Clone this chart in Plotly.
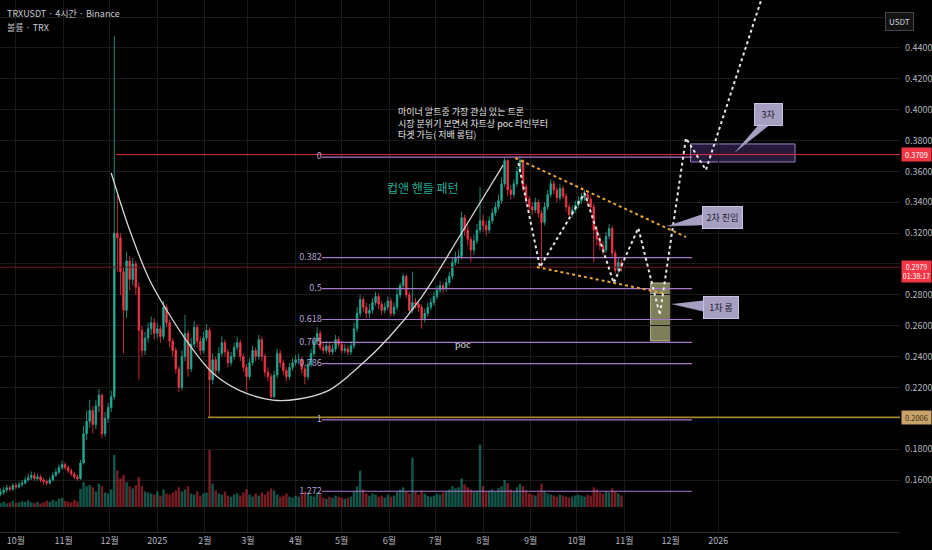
import pandas as pd
import plotly.graph_objects as go

# 2-day candles
dates = pd.date_range('2024-09-21', periods=203, freq='2D')
closes = [
    0.1520, 0.1535, 0.1550, 0.1540, 0.1565, 0.1555, 0.1570, 0.1580, 0.1600, 0.1615,
    0.1630, 0.1610, 0.1620, 0.1600, 0.1590, 0.1580, 0.1600, 0.1630, 0.1650, 0.1680,
    0.1700, 0.1680, 0.1660, 0.1640, 0.1620, 0.1610, 0.1710, 0.1900, 0.1980, 0.2050,
    0.1960, 0.2080, 0.2150, 0.1900, 0.2000, 0.2070, 0.2140, 0.3200, 0.3170, 0.2950,
    0.2700, 0.3020, 0.2900, 0.3000, 0.2850, 0.2570, 0.2440, 0.2520, 0.2580, 0.2620,
    0.2550, 0.2580, 0.2530, 0.2720, 0.2620, 0.2500, 0.2440, 0.2320, 0.2200, 0.2400,
    0.2550, 0.2320, 0.2480, 0.2590, 0.2500, 0.2440, 0.2520, 0.2570, 0.2250, 0.2380,
    0.2310, 0.2420, 0.2490, 0.2430, 0.2360, 0.2400, 0.2460, 0.2490, 0.2400, 0.2330,
    0.2270, 0.2360, 0.2440, 0.2400, 0.2510, 0.2400, 0.2300, 0.2270, 0.2140, 0.2280,
    0.2420, 0.2360, 0.2310, 0.2270, 0.2330, 0.2360, 0.2380, 0.2380, 0.2320, 0.2270,
    0.2350, 0.2420, 0.2500, 0.2550, 0.2460, 0.2440, 0.2470, 0.2430, 0.2450, 0.2510,
    0.2480, 0.2440, 0.2450, 0.2430, 0.2470, 0.2580, 0.2680, 0.2770, 0.2720, 0.2680,
    0.2700, 0.2750, 0.2790, 0.2740, 0.2700, 0.2720, 0.2760, 0.2680, 0.2720, 0.2800,
    0.2860, 0.2920, 0.2800, 0.2700, 0.2750, 0.2740, 0.2720, 0.2640, 0.2680, 0.2720,
    0.2750, 0.2790, 0.2830, 0.2860, 0.2840, 0.2880, 0.2920, 0.3010, 0.3040, 0.3050,
    0.3300, 0.3220, 0.3160, 0.3090, 0.3150, 0.3220, 0.3280, 0.3250, 0.3220, 0.3280,
    0.3330, 0.3370, 0.3410, 0.3520, 0.3670, 0.3480, 0.3450, 0.3520, 0.3600, 0.3670,
    0.3500, 0.3420, 0.3370, 0.3350, 0.3400, 0.3330, 0.3270, 0.3370, 0.3450, 0.3520,
    0.3480, 0.3430, 0.3490, 0.3440, 0.3370, 0.3320, 0.3350, 0.3380, 0.3410, 0.3430,
    0.3450, 0.3420, 0.3370, 0.3220, 0.3160, 0.3120, 0.3090, 0.3180, 0.3230, 0.3070,
    0.2960, 0.3010, 0.2979,
]
highs = [
    0.1545, 0.1555, 0.1570, 0.1565, 0.1580, 0.1580, 0.1590, 0.1600, 0.1620, 0.1640,
    0.1655, 0.1650, 0.1640, 0.1635, 0.1615, 0.1605, 0.1620, 0.1650, 0.1675, 0.1700,
    0.1725, 0.1715, 0.1695, 0.1675, 0.1650, 0.1635, 0.1730, 0.1950, 0.2050, 0.2120,
    0.2080, 0.2120, 0.2190, 0.2160, 0.2040, 0.2100, 0.2180, 0.4480, 0.3450, 0.3200,
    0.2980, 0.3080, 0.3050, 0.3040, 0.3020, 0.2880, 0.2600, 0.2560, 0.2620, 0.2660,
    0.2650, 0.2620, 0.2600, 0.2760, 0.2740, 0.2640, 0.2520, 0.2460, 0.2340, 0.2440,
    0.2670, 0.2570, 0.2520, 0.2630, 0.2610, 0.2530, 0.2560, 0.2610, 0.2590, 0.2420,
    0.2400, 0.2460, 0.2530, 0.2510, 0.2450, 0.2430, 0.2490, 0.2530, 0.2510, 0.2420,
    0.2350, 0.2390, 0.2470, 0.2460, 0.2540, 0.2530, 0.2420, 0.2330, 0.2290, 0.2310,
    0.2450, 0.2440, 0.2380, 0.2330, 0.2360, 0.2390, 0.2410, 0.2420, 0.2400, 0.2340,
    0.2380, 0.2450, 0.2530, 0.2590, 0.2570, 0.2490, 0.2500, 0.2490, 0.2480, 0.2540,
    0.2530, 0.2500, 0.2480, 0.2470, 0.2500, 0.2620, 0.2720, 0.2800, 0.2790, 0.2750,
    0.2740, 0.2780, 0.2820, 0.2810, 0.2760, 0.2750, 0.2790, 0.2780, 0.2750, 0.2840,
    0.2880, 0.2940, 0.2930, 0.2820, 0.2950, 0.2780, 0.2760, 0.2740, 0.2710, 0.2750,
    0.2780, 0.2820, 0.2860, 0.2890, 0.2880, 0.2910, 0.2950, 0.3040, 0.3080, 0.3090,
    0.3340, 0.3320, 0.3250, 0.3180, 0.3190, 0.3260, 0.3500, 0.3320, 0.3280, 0.3310,
    0.3360, 0.3400, 0.3450, 0.3560, 0.3690, 0.3680, 0.3510, 0.3550, 0.3630, 0.3700,
    0.3680, 0.3520, 0.3440, 0.3400, 0.3430, 0.3420, 0.3350, 0.3400, 0.3480, 0.3550,
    0.3540, 0.3500, 0.3520, 0.3510, 0.3460, 0.3390, 0.3380, 0.3410, 0.3440, 0.3460,
    0.3480, 0.3470, 0.3440, 0.3390, 0.3250, 0.3190, 0.3150, 0.3210, 0.3260, 0.3250,
    0.3090, 0.3040, 0.3030,
]
lows = [
    0.1495, 0.1505, 0.1520, 0.1525, 0.1530, 0.1540, 0.1545, 0.1555, 0.1570, 0.1590,
    0.1600, 0.1595, 0.1595, 0.1585, 0.1570, 0.1565, 0.1570, 0.1590, 0.1620, 0.1640,
    0.1665, 0.1665, 0.1645, 0.1625, 0.1605, 0.1595, 0.1600, 0.1700, 0.1860, 0.1940,
    0.1900, 0.1930, 0.2040, 0.1870, 0.1880, 0.1970, 0.2040, 0.2120, 0.2950, 0.2800,
    0.2420, 0.2650, 0.2830, 0.2860, 0.2800, 0.2250, 0.2400, 0.2410, 0.2490, 0.2540,
    0.2510, 0.2520, 0.2490, 0.2510, 0.2590, 0.2460, 0.2400, 0.2290, 0.2170, 0.2180,
    0.2370, 0.2270, 0.2300, 0.2460, 0.2460, 0.2410, 0.2420, 0.2500, 0.2006, 0.2220,
    0.2280, 0.2290, 0.2400, 0.2400, 0.2330, 0.2340, 0.2380, 0.2440, 0.2370, 0.2300,
    0.2180, 0.2250, 0.2340, 0.2370, 0.2380, 0.2370, 0.2270, 0.2240, 0.2130, 0.2130,
    0.2260, 0.2330, 0.2280, 0.2240, 0.2250, 0.2310, 0.2340, 0.2350, 0.2290, 0.2220,
    0.2250, 0.2330, 0.2400, 0.2480, 0.2440, 0.2420, 0.2420, 0.2410, 0.2410, 0.2430,
    0.2460, 0.2420, 0.2420, 0.2410, 0.2410, 0.2450, 0.2560, 0.2660, 0.2690, 0.2650,
    0.2650, 0.2680, 0.2730, 0.2710, 0.2670, 0.2680, 0.2700, 0.2660, 0.2660, 0.2700,
    0.2780, 0.2840, 0.2780, 0.2680, 0.2680, 0.2710, 0.2690, 0.2580, 0.2620, 0.2660,
    0.2700, 0.2730, 0.2770, 0.2810, 0.2810, 0.2820, 0.2860, 0.2900, 0.2990, 0.3000,
    0.3030, 0.3180, 0.3120, 0.3010, 0.3060, 0.3130, 0.3200, 0.3210, 0.3180, 0.3200,
    0.3260, 0.3310, 0.3350, 0.3390, 0.3500, 0.3440, 0.3420, 0.3430, 0.3500, 0.3580,
    0.3470, 0.3390, 0.3340, 0.3320, 0.3330, 0.3300, 0.2980, 0.3250, 0.3350, 0.3430,
    0.3450, 0.3400, 0.3410, 0.3420, 0.3340, 0.3300, 0.3300, 0.3330, 0.3360, 0.3390,
    0.3410, 0.3390, 0.3340, 0.3010, 0.3120, 0.3090, 0.3060, 0.3070, 0.3160, 0.3040,
    0.2940, 0.2940, 0.2950,
]
volumes = [
    8, 10, 7, 9, 12, 8, 9, 11, 10, 13,
    9, 8, 10, 7, 9, 12, 10, 14, 11, 16,
    18, 12, 10, 9, 14, 11, 35, 48, 40, 42,
    38, 30, 45, 40, 28, 26, 34, 100, 70, 55,
    62, 48, 40, 36, 42, 58, 40, 30, 28, 26,
    24, 30, 22, 34, 26, 24, 28, 32, 38, 30,
    34, 40, 26, 24, 30, 22, 26, 28, 110, 45,
    32, 26, 24, 30, 22, 20, 24, 26, 22, 28,
    34, 24, 20, 26, 22, 28, 24, 30, 36, 32,
    24, 20, 22, 26, 20, 18, 22, 20, 24, 30,
    26, 22, 20, 28, 24, 18, 16, 20, 18, 22,
    20, 18, 16, 18, 20, 30, 40, 70, 34, 26,
    22, 26, 24, 20, 22, 18, 24, 20, 22, 30,
    34, 38, 30, 26, 95, 30, 24, 32, 26, 22,
    20, 22, 26, 24, 28, 30, 34, 40, 36, 38,
    55, 44, 38, 34, 30, 32, 120, 40, 30, 32,
    34, 30, 36, 40, 52, 46, 34, 30, 38, 44,
    40, 32, 26, 24, 22, 28, 45, 30, 26, 24,
    22, 20, 24, 22, 20, 18, 20, 22, 24, 22,
    20, 24, 22, 38, 34, 28, 26, 30, 28, 36,
    30, 26, 22,
]
opens = [0.1510] + closes[:-1]

# axis ticks
month_ticks = ['2024-10-01', '2024-11-01', '2024-12-01', '2025-01-01', '2025-02-01',
               '2025-03-01', '2025-04-01', '2025-05-01', '2025-06-01', '2025-07-01',
               '2025-08-01', '2025-09-01', '2025-10-01', '2025-11-01', '2025-12-01',
               '2026-01-01']
month_labels = ['10월', '11월', '12월', '2025', '2월', '3월', '4월', '5월', '6월', '7월',
                '8월', '9월', '10월', '11월', '12월', '2026']
price_ticks = [0.16, 0.18, 0.20, 0.22, 0.24, 0.26, 0.28, 0.30, 0.32, 0.34, 0.36,
               0.38, 0.40, 0.42, 0.44, 0.46]
price_labels = ['0.1600', '0.1800', '', '0.2200', '0.2400', '0.2600', '0.2800', '',
                '0.3200', '0.3400', '0.3600', '0.3800', '0.4000', '0.4200', '0.4400', '']
x_start, x_end = '2024-09-20 15:00', '2026-04-29 07:00'

# horizontal levels
ath_price, ath_date = 0.3709, '2024-12-05'
last_price = 0.2979
low_price, low_date = 0.2006, '2025-02-03'

# fib retracement
fib_start, fib_end = '2025-04-18', '2025-12-15'
fib_top, fib_bottom = 0.3692, 0.1990
fib_ratios = [0, 0.382, 0.5, 0.618, 0.705, 0.786, 1, 1.272]
fib_labels = ['0', '0.382', '0.5', '0.618', '0.705', '0.786', '1', '1.272']
fib_prices = [fib_top - r * (fib_top - fib_bottom) for r in fib_ratios]

# cup arc
cup_dates = ['2024-12-02', '2024-12-14', '2024-12-27', '2025-01-07', '2025-01-22',
             '2025-02-06', '2025-02-23', '2025-03-17', '2025-04-03', '2025-04-23',
             '2025-05-12', '2025-06-01', '2025-06-22', '2025-07-18', '2025-08-14']
cup_prices = [0.3590, 0.3220, 0.2896, 0.2702, 0.2475, 0.2293, 0.2183, 0.2118, 0.2125,
              0.2183, 0.2332, 0.2527, 0.2786, 0.3201, 0.3641]

# projected path (white dots)
path_dates = ['2025-08-24', '2025-09-07', '2025-10-06', '2025-10-25', '2025-11-10',
              '2025-11-24', '2025-12-11', '2025-12-24', '2026-01-30']
path_prices = [0.3654, 0.2980, 0.3460, 0.2877, 0.3233, 0.2669, 0.3816, 0.3609, 0.4743]

# handle channel (orange dots)
upper_dates, upper_prices = ['2025-08-22', '2025-12-11'], [0.3687, 0.3175]
lower_dates, lower_prices = ['2025-09-05', '2025-11-26'], [0.2980, 0.2812]

# zones
target_zone = dict(x0='2025-12-14', x1='2026-02-20', y0=0.3661, y1=0.3778)
entry_zone = dict(x0='2025-11-18', x1='2025-12-01', y0=0.2501, y1=0.2877)

# callouts: label, box centre, tail triangle
callouts = [
    ('3차', '2026-02-03', 0.3972, 23,
     ['2026-01-30', '2026-02-04', '2026-01-12'], [0.3933, 0.3907, 0.3726]),
    ('2차 진입', '2026-01-04', 0.3301, 35,
     ['2025-12-27', '2025-12-27', '2025-11-29'], [0.3340, 0.3255, 0.3246]),
    ('1차 롱', '2026-01-03', 0.2718, 30,
     ['2025-12-28', '2025-12-28', '2025-12-02'], [0.2770, 0.2680, 0.2741]),
]

UP, DOWN = '#22ab94', '#f23645'
FIB = '#a878c8'
BOX = '#a79fc2'

fig = go.Figure()

# volume on the hidden primary axis so price draws on top
vol_colors = ['rgba(34,171,148,0.5)' if c >= o else 'rgba(242,54,69,0.5)'
              for o, c in zip(opens, closes)]
fig.add_trace(go.Bar(x=dates, y=volumes, marker=dict(color=vol_colors, line_width=0),
                     yaxis='y', showlegend=False))

# level lines
fig.add_trace(go.Scatter(x=[x_start, x_end], y=[last_price, last_price], mode='lines',
                         line=dict(color='#6e1a22', width=1), yaxis='y2', showlegend=False))
fig.add_trace(go.Scatter(x=[ath_date, x_end], y=[ath_price, ath_price], mode='lines',
                         line=dict(color='#e0303f', width=1), yaxis='y2', showlegend=False))
fig.add_trace(go.Scatter(x=[low_date, x_end], y=[low_price, low_price], mode='lines',
                         line=dict(color='#a8892e', width=1.5), yaxis='y2', showlegend=False))

# fib lines + labels
fx, fy = [], []
for p in fib_prices:
    fx += [fib_start, fib_end, None]
    fy += [p, p, None]
fig.add_trace(go.Scatter(x=fx, y=fy, mode='lines', line=dict(color=FIB, width=1.2),
                         yaxis='y2', showlegend=False))
fig.add_trace(go.Scatter(x=[fib_start] * len(fib_prices), y=fib_prices, mode='text',
                         text=fib_labels, textposition='middle left',
                         textfont=dict(size=9, color='#b9a2d6'), yaxis='y2', showlegend=False))

# candles
fig.add_trace(go.Candlestick(x=dates, open=opens, high=highs, low=lows, close=closes,
                             increasing=dict(line=dict(color=UP, width=0.8), fillcolor=UP),
                             decreasing=dict(line=dict(color=DOWN, width=0.8), fillcolor=DOWN),
                             whiskerwidth=0, yaxis='y2', showlegend=False))

# drawings
fig.add_trace(go.Scatter(x=cup_dates, y=cup_prices, mode='lines',
                         line=dict(color='#d6d6d6', width=1.3, shape='spline'),
                         yaxis='y2', showlegend=False))
for xs, ys in [(upper_dates, upper_prices), (lower_dates, lower_prices)]:
    fig.add_trace(go.Scatter(x=xs, y=ys, mode='lines',
                             line=dict(color='#e8a33d', width=2, dash='dot'),
                             yaxis='y2', showlegend=False))
fig.add_trace(go.Scatter(x=path_dates, y=path_prices, mode='lines',
                         line=dict(color='#e6e6e6', width=2, dash='dot'),
                         yaxis='y2', showlegend=False))

fig.add_shape(type='rect', xref='x', yref='y2', layer='below',
              fillcolor='rgba(126,87,194,0.30)', line=dict(color='#9a7fc8', width=1),
              **target_zone)
fig.add_shape(type='rect', xref='x', yref='y2', layer='below',
              fillcolor='rgba(170,168,120,0.75)', line=dict(color='#b8b68a', width=1),
              **entry_zone)

for label, bx, by, bw, tx, ty in callouts:
    fig.add_trace(go.Scatter(x=tx, y=ty, mode='lines', fill='toself', fillcolor=BOX,
                             line=dict(color=BOX, width=0.5), yaxis='y2', showlegend=False))
    fig.add_annotation(x=bx, y=by, xref='x', yref='y2', text=label, showarrow=False,
                       bgcolor=BOX, bordercolor='#c9c1e3', borderwidth=1, borderpad=2,
                       width=bw, height=17, font=dict(size=9, color='#1b1b2a'))

# texts
fig.add_annotation(x='2025-06-05', y=0.4043, xref='x', yref='y2', xanchor='left',
                   yanchor='top', align='left', showarrow=False,
                   text='마이너 알트중 가장 관심 있는 트론<br>시장 분위기 보면서 차트상 poc 라인부터'
                        '<br>타겟 가능( 저배 롱텀)',
                   font=dict(size=9, color='#e6e6e6'))
fig.add_annotation(x='2025-06-23', y=0.3499, xref='x', yref='y2', showarrow=False,
                   text='컵앤 핸들 패턴', font=dict(size=12, color=UP))
fig.add_annotation(x='2025-07-19', y=0.2481, xref='x', yref='y2', showarrow=False,
                   text='poc', font=dict(size=11, color='#d8d8d8', family='Liberation Serif'))

fig.add_annotation(x=0.005, y=0.975, xref='paper', yref='paper', xanchor='left',
                   yanchor='middle', showarrow=False, text='TRXUSDT · 4시간 · Binance',
                   font=dict(size=9, color='#c8cad0'))
fig.add_annotation(x=0.005, y=0.948, xref='paper', yref='paper', xanchor='left',
                   yanchor='middle', showarrow=False, text='볼륨 · TRX',
                   font=dict(size=9, color='#c8cad0'))

# price scale badges
fig.add_annotation(x=1.0155, y=0.977, xref='paper', yref='paper', showarrow=False,
                   text='USDT', bgcolor='#131313', bordercolor='#434651', borderwidth=1,
                   borderpad=3, font=dict(size=8, color='#d1d4dc'))
fig.add_annotation(x=1.001, y=ath_price, xref='paper', yref='y2', xanchor='left',
                   showarrow=False, text='0.3709', bgcolor='#f23645', borderpad=1,
                   width=27, font=dict(size=7.5, color='#ffffff'))
fig.add_annotation(x=1.001, y=last_price, xref='paper', yref='y2', xanchor='left',
                   yshift=-4, showarrow=False, text='0.2979<br>01:38:17',
                   bgcolor='#f23645', borderpad=1, width=27,
                   font=dict(size=7, color='#ffffff'))
fig.add_annotation(x=1.001, y=low_price, xref='paper', yref='y2', xanchor='left',
                   showarrow=False, text='0.2006', bgcolor='#c9a46a', borderpad=1,
                   width=27, font=dict(size=7.5, color='#3a2a10'))

fig.update_layout(
    width=932, height=550,
    margin=dict(l=0, r=30, t=0, b=18),
    paper_bgcolor='#000000', plot_bgcolor='#000000',
    font=dict(family='Noto Sans CJK KR, Noto Sans, sans-serif', color='#b2b5be'),
    bargap=0.2,
    xaxis=dict(type='date', range=[x_start, x_end], rangeslider=dict(visible=False),
               tickvals=month_ticks, ticktext=month_labels, tickfont=dict(size=9),
               showgrid=True, gridcolor='#1a1a1a', zeroline=False,
               showline=True, linecolor='#2a2e39', ticks=''),
    yaxis=dict(range=[-48, 975], visible=False, showgrid=False, fixedrange=True),
    yaxis2=dict(overlaying='y', side='right', range=[0.1263, 0.4711],
                tickvals=price_ticks, ticktext=price_labels, tickfont=dict(size=9),
                showgrid=True, gridcolor='#1a1a1a', zeroline=False, ticks='',
                ticklabelstandoff=4),
    hovermode=False,
)

fig.write_html("out.html", config={'displayModeBar': False},
               post_script="document.body.style.margin='0';")
